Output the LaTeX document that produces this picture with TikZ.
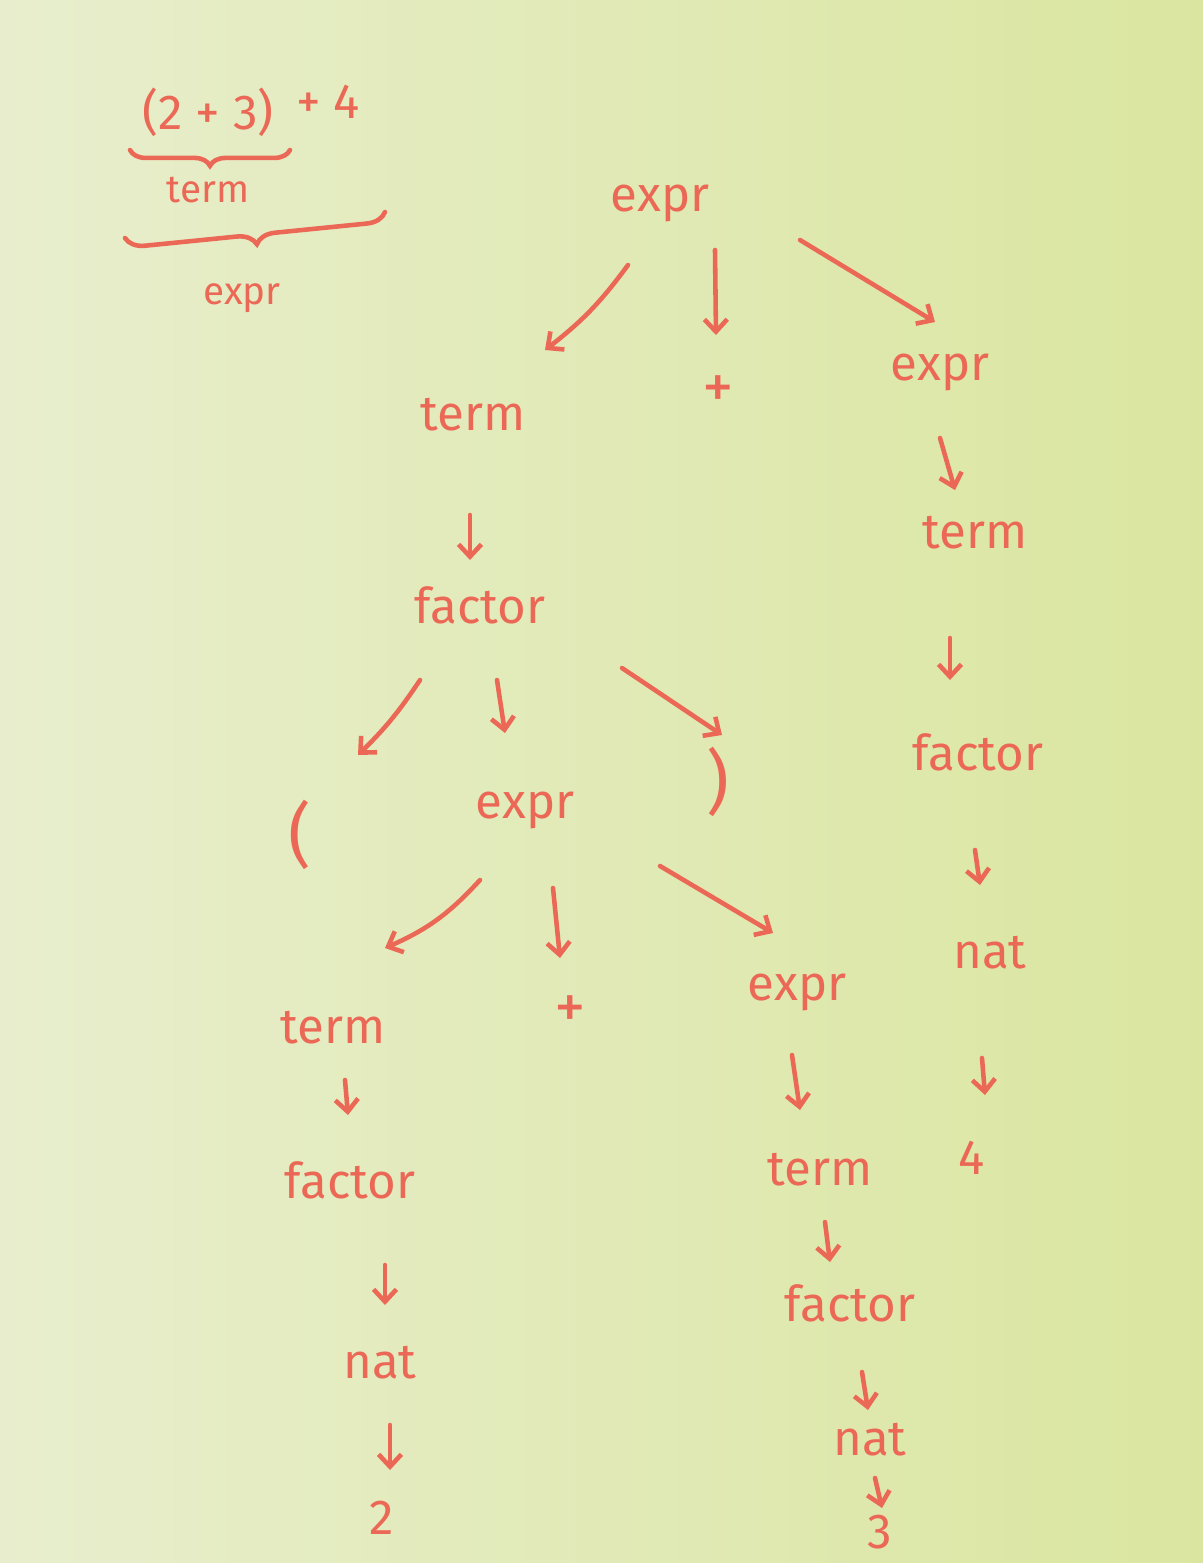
\documentclass[tikz,border=0pt]{standalone}
\usepackage{fontspec}
\setmainfont{Fira Sans}
\usetikzlibrary{arrows.meta,decorations.pathreplacing,calc}
\definecolor{paperL}{RGB}{232,238,205}
\definecolor{paperR}{RGB}{218,230,160}
\definecolor{ink}{RGB}{236,104,86}
\begin{document}
\begin{tikzpicture}[x=0.02cm,y=-0.02cm,
  lbl/.style={text=ink,font=\fontsize{28}{32}\selectfont,inner sep=7pt},
  plus/.style={text=ink,font=\fontsize{36}{40}\selectfont,inner sep=4pt},
  paren/.style={text=ink,font=\fontsize{40}{44}\selectfont,inner sep=4pt},
  small/.style={text=ink,font=\fontsize{22}{26}\selectfont,inner sep=4pt},
  arr/.style={draw=ink,line width=2.6pt,line cap=round,
    -{Straight Barb[length=7pt,width=13pt]}},
  bracestyle/.style={draw=ink,line width=2.6pt,line cap=round,decorate,
    decoration={brace,mirror,amplitude=9pt}}]
\shade[left color=paperL,right color=paperR] (0,0) rectangle (1203,1563);
\useasboundingbox (0,0) rectangle (1203,1563);

% formula in the top left corner
\node[lbl] (fa) at (208,112) {(2 + 3)};
\node[lbl] (fb) at (328,102) {+ 4};
\coordinate (ba) at (130,150);
\coordinate (bb) at (290,150);
\draw[bracestyle] (ba) -- (bb);
\node[small] (fterm) at (208,190) {term};
\coordinate (bc) at (125,238);
\coordinate (bd) at (385,212);
\draw[bracestyle,decoration={brace,mirror,amplitude=11pt}] (bc) -- (bd);
\node[small] (fexpr) at (242,298) {expr};

% parse tree
\node[lbl] (e0) at (660,203) {expr};
\node[lbl] (t1) at (473,415) {term};
\node[plus] (p1) at (718,392) {+};
\node[lbl] (e1) at (940,372) {expr};
\node[lbl] (f1) at (480,605) {factor};
\node[paren] (lp) at (300,835) {(};
\node[lbl] (e2) at (525,810) {expr};
\node[paren] (rp) at (718,782) {)};
\node[lbl] (t2) at (333,1028) {term};
\node[plus] (p2) at (570,1012) {+};
\node[lbl] (e3) at (797,992) {expr};
\node[lbl] (f2) at (350,1180) {factor};
\node[lbl] (n2) at (380,1363) {nat};
\node[lbl] (two) at (382,1518) {2};
\node[lbl] (t3) at (820,1170) {term};
\node[lbl] (f3) at (850,1303) {factor};
\node[lbl] (n3) at (870,1440) {nat};
\node[lbl] (three) at (880,1532) {3};
\node[lbl] (t4) at (975,533) {term};
\node[lbl] (f4) at (978,752) {factor};
\node[lbl] (n4) at (990,953) {nat};
\node[lbl] (four) at (972,1158) {4};

\draw[arr] ([shift={(-32,62)}]e0.center) to[bend left=8] ([shift={(72,-65)}]t1.center);
\draw[arr] ([shift={(55,47)}]e0.center) -- ([shift={(-2,-57)}]p1.center);
\draw[arr] ([shift={(140,37)}]e0.center) -- ([shift={(-5,-50)}]e1.center);
\draw[arr] ([shift={(-3,100)}]t1.center) -- ([shift={(-10,-45)}]f1.center);
\draw[arr] ([shift={(-60,75)}]f1.center) to[bend left=6] ([shift={(58,-80)}]lp.center);
\draw[arr] ([shift={(17,75)}]f1.center) -- ([shift={(-20,-77)}]e2.center);
\draw[arr] ([shift={(142,63)}]f1.center) -- ([shift={(4,-47)}]rp.center);
\draw[arr] ([shift={(-45,70)}]e2.center) to[bend left=12] ([shift={(52,-80)}]t2.center);
\draw[arr] ([shift={(28,78)}]e2.center) -- ([shift={(-10,-54)}]p2.center);
\draw[arr] ([shift={(135,56)}]e2.center) -- ([shift={(-24,-59)}]e3.center);
\draw[arr] ([shift={(12,52)}]t2.center) -- ([shift={(-2,-65)}]f2.center);
\draw[arr] ([shift={(35,85)}]f2.center) -- ([shift={(5,-58)}]n2.center);
\draw[arr] ([shift={(10,62)}]n2.center) -- ([shift={(8,-48)}]two.center);
\draw[arr] ([shift={(-5,63)}]e3.center) -- ([shift={(-20,-60)}]t3.center);
\draw[arr] ([shift={(5,52)}]t3.center) -- ([shift={(-20,-41)}]f3.center);
\draw[arr] ([shift={(12,69)}]f3.center) -- ([shift={(-2,-30)}]n3.center);
\draw[arr] ([shift={(5,38)}]n3.center) -- ([shift={(2,-24)}]three.center);
\draw[arr] ([shift={(0,66)}]e1.center) -- ([shift={(-20,-43)}]t4.center);
\draw[arr] ([shift={(-25,105)}]t4.center) -- ([shift={(-28,-72)}]f4.center);
\draw[arr] ([shift={(-3,98)}]f4.center) -- ([shift={(-10,-68)}]n4.center);
\draw[arr] ([shift={(-8,105)}]n4.center) -- ([shift={(13,-63)}]four.center);
\end{tikzpicture}
\end{document}
